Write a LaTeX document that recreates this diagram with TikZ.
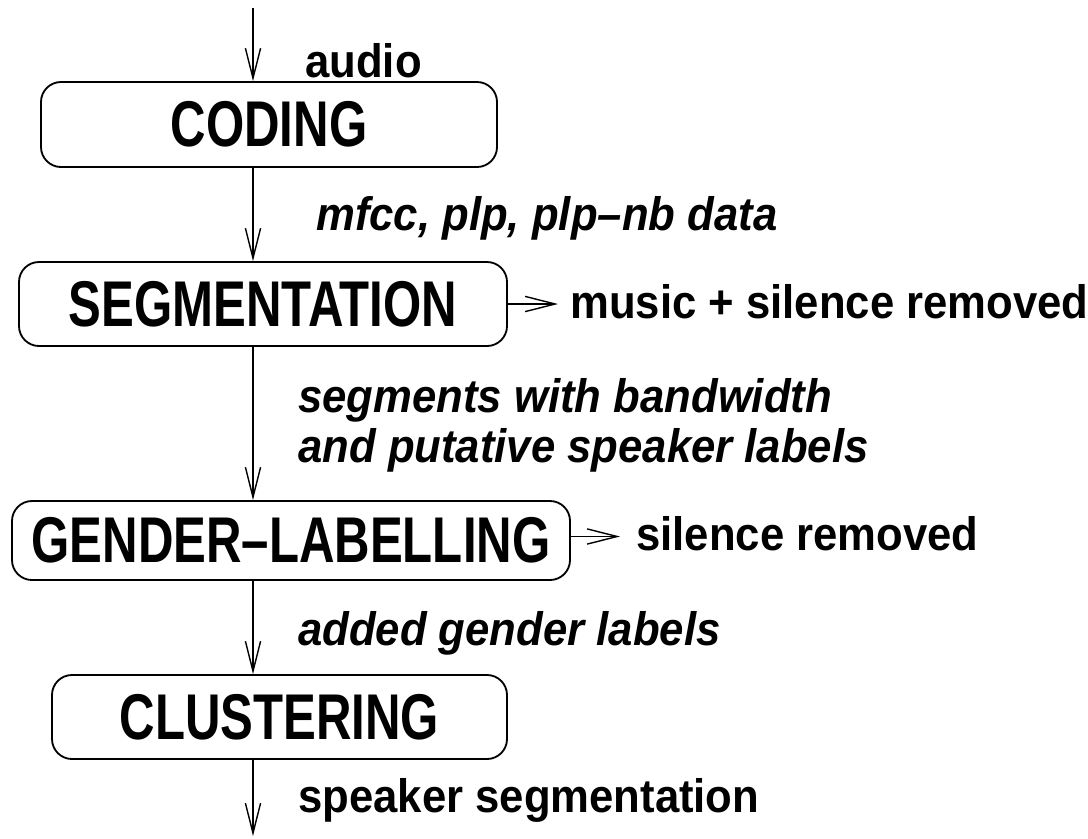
\documentclass[tikz,border=0pt]{standalone}
\usepackage{fontspec}
\setmainfont{Liberation Sans}
\newfontfamily\stagefont{Liberation Sans}[FakeStretch=0.76]
\newfontfamily\notefont{Liberation Sans}[FakeStretch=0.93]
\usetikzlibrary{arrows.meta}

\tikzset{
	stage/.style={draw, line width=1.3pt, rounded corners=0.5cm, inner sep=0pt,
		font=\stagefont\bfseries\fontsize{46}{54}\selectfont},
	flow/.style={line width=1pt, -{Straight Barb[length=7.5mm,width=3.8mm]}},
	note/.style={anchor=base west, inner sep=0pt,
		font=\notefont\bfseries\fontsize{33.4}{40}\selectfont},
	inote/.style={note, font=\notefont\bfseries\itshape\fontsize{33.4}{40}\selectfont}
}

\begin{document}
\begin{tikzpicture}[x=0.25mm, y=-0.25mm]
		\useasboundingbox (0,0) rectangle (1088,838);
		% processing stages
		\node[stage, minimum width=11.4cm, minimum height=2.125cm] (coding) at (269,124.5) {CODING};
		\node[stage, minimum width=12.2cm, minimum height=2.1cm] (segmentation) at (263,304) {SEGMENTATION};
		\node[stage, minimum width=13.95cm, minimum height=1.975cm] (gender) at (291,540.5) {GENDER–LABELLING};
		\node[stage, minimum width=11.375cm, minimum height=2.1cm] (clustering) at (279.5,717) {CLUSTERING};
		\coordinate (in) at (253,8);
		\coordinate (out) at (253,836);
		% what flows between them
		\node[note] (audio) at (305,77) {audio};
		\node[inote] (feats) at (316,230) {mfcc, plp, plp–nb data};
		\node[note] (music) at (570,318) {music + silence removed};
		\node[inote] (segs) at (298,412) {segments with bandwidth};
		\node[inote] (spk) at (298,462) {and putative speaker labels};
		\node[note] (silence) at (636,550) {silence removed};
		\node[inote] (genders) at (298,645) {added gender labels};
		\node[note] (result) at (298,812) {speaker segmentation};
		% main chain
		\draw[flow] (in) -- (in |- coding.north);
		\draw[flow] (in |- coding.south) -- (in |- segmentation.north);
		\draw[flow] (in |- segmentation.south) -- (in |- gender.north);
		\draw[flow] (in |- gender.south) -- (in |- clustering.north);
		\draw[flow] (in |- clustering.south) -- (out);
		% removed parts
		\draw[flow, shorten >=3mm] (segmentation.east) -- (segmentation.east -| music.west);
		\draw[flow, shorten >=4mm] ([yshift=1mm]gender.east) -- ([yshift=1mm]gender.east -| silence.west);
\end{tikzpicture}
\end{document}
